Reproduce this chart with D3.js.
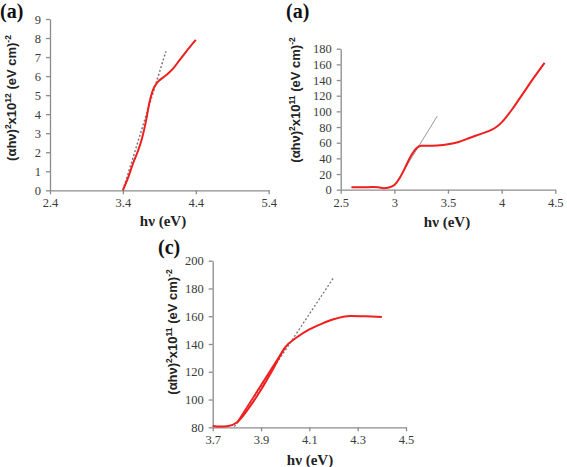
<!DOCTYPE html>
<html><head><meta charset="utf-8">
<script src="https://cdn.jsdelivr.net/npm/d3@7"></script>
<style>
html,body{margin:0;padding:0;background:#fff;}
svg{display:block;}
</style></head>
<body>
<script>
// ---- Data ----
// Panel (a) left: (αhν)^2 x10^12 vs hν
const aX = [3.40, 3.47, 3.54, 3.60, 3.66, 3.72, 3.76, 3.81, 3.88, 3.95, 4.02, 4.10, 4.18, 4.26, 4.32, 4.40];
const aY = [0.00, 0.65, 1.42, 2.00, 2.70, 3.70, 4.55, 5.25, 5.70, 5.92, 6.14, 6.45, 6.85, 7.25, 7.54, 7.90];
const aFitX = [3.40, 3.99];
const aFitY = [0.00, 7.30];
const aXTicks = [2.4, 3.4, 4.4, 5.4];
const aYTicks = [0,1,2,3,4,5,6,7,8,9];

// Panel (a) right: (αhν)^2 x10^11
const bX = [2.60, 2.70, 2.80, 2.85, 2.90, 2.95, 3.00, 3.05, 3.10, 3.15, 3.20, 3.25, 3.30, 3.40, 3.50, 3.60, 3.70, 3.80, 3.90, 3.95, 4.00, 4.05, 4.10, 4.20, 4.30, 4.40];
const bY = [3.0, 3.0, 3.3, 3.0, 2.0, 2.8, 6.0, 15, 28, 42, 52, 56, 56, 56.5, 58, 61, 66, 71, 76, 80, 86, 94, 103, 123, 143, 162];
const bFitX = [3.00, 3.40];
const bFitY = [5, 94];
const bXTicks = [2.5, 3, 3.5, 4, 4.5];
const bYTicks = [0,20,40,60,80,100,120,140,160,180];

// Panel (c)
const cX = [3.70, 3.73, 3.76, 3.80, 3.85, 3.90, 3.95, 4.00, 4.05, 4.10, 4.15, 4.20, 4.27, 4.33, 4.40];
const cY = [81.0, 80.6, 80.8, 83.5, 94, 107, 122, 137.6, 145, 150.5, 154.5, 157.8, 160.2, 160.0, 159.5];
const cSegX = [3.80, 4.00];
const cSegY = [83, 137.6];
const cFitX = [3.79, 4.20];
const cFitY = [80.5, 187.7];
const cXTicks = [3.7, 3.9, 4.1, 4.3, 4.5];
const cYTicks = [80,100,120,140,160,180,200];

const W = 567, H = 467;
const SERIF = "'Liberation Serif','Times New Roman',Times,'DejaVu Serif',serif";
const SANS = "'Liberation Sans',Arial,Helvetica,sans-serif";
const svg = d3.select("body").append("svg").attr("width", W).attr("height", H);
const RED = "#f01e1e";

function panel(o){
  const x = d3.scaleLinear().domain(o.xd).range([o.x0, o.x1]);
  const y = d3.scaleLinear().domain(o.yd).range([o.y0, o.y1]);
  const g = svg.append("g");
  const xa = g.append("g").attr("transform", `translate(0,${o.y0})`)
    .call(d3.axisBottom(x).tickValues(o.xt).tickSize(4).tickPadding(4).tickSizeOuter(0).tickFormat(d=>o.xf(d)));
  const ya = g.append("g").attr("transform", `translate(${o.x0},0)`)
    .call(d3.axisLeft(y).tickValues(o.yt).tickSize(4).tickPadding(5).tickSizeOuter(0).tickFormat(d=>String(d)));
  [xa, ya].forEach(a=>{
    a.attr("font-family", SERIF).attr("font-size", 12.5);
    a.selectAll("path,line").attr("stroke","#8c8c8c").attr("stroke-width",1.3);
    a.selectAll("text").attr("fill","#3a3a3a").style("font-family", SERIF).style("font-size","12.5px");
  });
  const line = d3.line().x(d=>x(d[0])).y(d=>y(d[1]));
  g.append("path").datum(d3.zip(o.fx, o.fy)).attr("d", line)
    .attr("fill","none").attr("stroke", o.fitColor).attr("stroke-width", o.fitW)
    .attr("stroke-dasharray", o.fitDash);
  if (o.sx) {
    g.append("path").datum(d3.zip(o.sx, o.sy)).attr("d", line)
      .attr("fill","none").attr("stroke", RED).attr("stroke-width", 1.8);
  }
  g.append("path").datum(d3.zip(o.cx, o.cy)).attr("d", line.curve(d3.curveMonotoneX))
    .attr("fill","none").attr("stroke", RED).attr("stroke-width", 2);
  svg.append("text").attr("x", o.xtX).attr("y", o.xtY).attr("text-anchor","middle")
    .style("font-family", SERIF).style("font-weight","bold").style("font-size","15px")
    .attr("fill","#222").text("hν (eV)");
  const t = svg.append("text").attr("transform", `translate(${o.ytX},${o.ytY}) rotate(-90)`)
    .attr("text-anchor","middle")
    .style("font-family", SANS).style("font-weight","bold").style("font-size","13px")
    .attr("fill","#222");
  t.append("tspan").text("(αhν)");
  t.append("tspan").attr("dy",-5).style("font-size","8.5px").text("2");
  t.append("tspan").attr("dy",5).text("x10");
  t.append("tspan").attr("dy",-5).style("font-size","8.5px").text(o.exp);
  t.append("tspan").attr("dy",5).text(" (eV cm)");
  t.append("tspan").attr("dy",-5).style("font-size","8.5px").text("-2");
  svg.append("text").attr("x", o.lx).attr("y", o.ly)
    .style("font-family", SERIF).style("font-weight","bold").style("font-size","20px")
    .attr("fill","#111").text(o.label);
}

panel({xd:[2.4,5.4], yd:[0,9], x0:50, x1:268.7, y0:190.3, y1:19,
  xt:aXTicks, yt:aYTicks, xf:d=>d.toFixed(1),
  cx:aX, cy:aY, fx:aFitX, fy:aFitY, fitColor:"#777", fitW:1.5, fitDash:"2,2",
  xtX:163, xtY:226, ytX:16, ytY:98, exp:"12", lx:0, ly:18, label:"(a)"});

panel({xd:[2.5,4.5], yd:[0,180], x0:340.7, x1:555.3, y0:189.7, y1:48.7,
  xt:bXTicks, yt:bYTicks, xf:d=>String(d),
  cx:bX, cy:bY, fx:bFitX, fy:bFitY, fitColor:"#999", fitW:1, fitDash:null,
  xtX:447, xtY:227, ytX:300, ytY:100, exp:"11", lx:286, ly:18, label:"(a)"});

panel({xd:[3.7,4.5], yd:[80,200], x0:212.7, x1:406, y0:427.3, y1:260.7,
  xt:cXTicks, yt:cYTicks, xf:d=>d.toFixed(1),
  cx:cX, cy:cY, sx:cSegX, sy:cSegY, fx:cFitX, fy:cFitY, fitColor:"#777", fitW:1.3, fitDash:"2,2",
  xtX:310, xtY:465, ytX:177, ytY:332, exp:"11", lx:158, ly:254, label:"(c)"});
</script>
</body></html>
